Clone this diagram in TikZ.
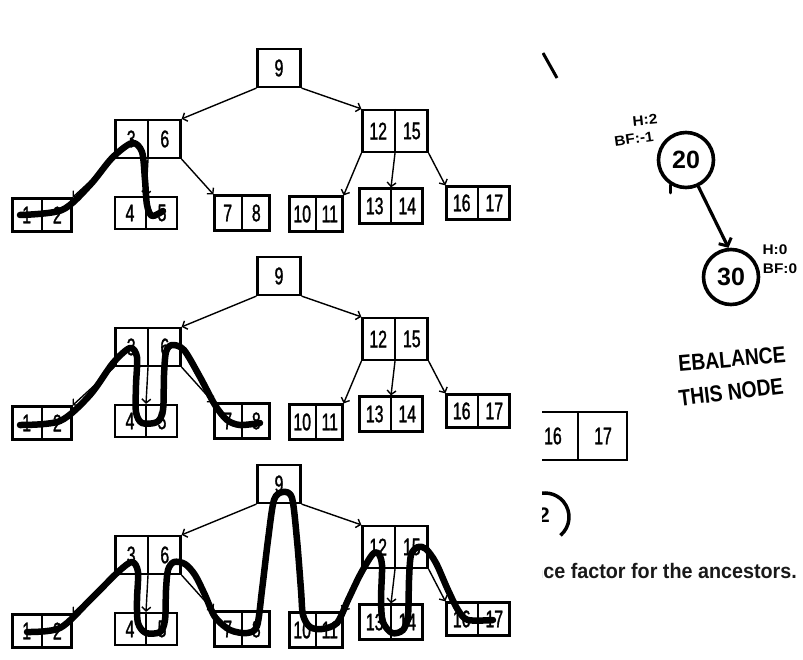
\documentclass[tikz,border=0pt]{standalone}
\usepackage{fontspec}
\setmainfont{Liberation Sans}
\newfontfamily\handfont[FakeStretch=0.66,FakeBold=1.2]{Liberation Sans}
\newfontfamily\capsfont[FakeStretch=0.84]{Liberation Sans Bold}
\newfontfamily\notefont[FakeStretch=1.1]{Liberation Sans Bold}
\newfontfamily\bigdigits{Liberation Sans Bold}
\newfontfamily\capfragfont[FakeStretch=0.94]{Liberation Sans Bold}
\usetikzlibrary{calc,arrows.meta}
\tikzset{
  boxline/.style={line width=2.2pt},
  keybox/.style={draw, line width=2.2pt, inner sep=0pt, font=\handfont\fontsize{24}{24}\selectfont},
  keytxt/.style={inner sep=0pt, font=\handfont\fontsize{24}{24}\selectfont},
  conn/.style={line width=1.4pt, -{Straight Barb[length=4pt,width=9pt,line width=1.4pt]}},
  trav/.style={line width=6.5pt, line cap=round, line join=round},
  heavy/.style={line width=3.2pt, line cap=round},
  avl/.style={draw, circle, line width=3.6pt, minimum size=55pt, inner sep=0pt, font=\bigdigits\fontsize{25}{25}\selectfont},
  note/.style={inner sep=0pt, font=\notefont\fontsize{14}{14}\selectfont},
  caption/.style={inner sep=0pt, font=\capsfont\fontsize{23}{23}\selectfont},
}
\newcommand\twokey[7]{%
  \node[keybox, minimum width=#4, minimum height=#5] (#1) at (#2,#3) {};
  \draw[boxline] (#1.north) -- (#1.south);
  \node[keytxt] (#1a) at ($(#1.west)!0.5!(#1.center)$) {#6};
  \node[keytxt] (#1b) at ($(#1.center)!0.5!(#1.east)$) {#7};
}
\newcommand\drawbtree[2]{%
  \begin{scope}[yshift=-#2pt]
    \node[keybox, minimum width=43, minimum height=38] (#1root) at (279,68) {9};
    \twokey{#1L}{148}{139}{65}{38}{3}{6}
    \twokey{#1R}{395}{131}{65}{42}{12}{15}
    \twokey{#1la}{42}{215}{59}{33}{1}{2}
    \twokey{#1lb}{146}{213}{62}{32}{4}{5}
    \twokey{#1lc}{242}{213}{55}{35}{7}{8}
    \twokey{#1ld}{316}{214}{53}{35}{10}{11}
    \twokey{#1le}{391}{206}{63}{35}{13}{14}
    \twokey{#1lf}{478}{203}{63}{33}{16}{17}
    \draw[conn] (#1root.south west) -- (#1L.north east);
    \draw[conn] (#1root.south east) -- (#1R.north west);
    \draw[conn] (#1L.south west) -- (#1la.north east);
    \draw[conn] (#1L.south) -- (#1lb.north);
    \draw[conn] (#1L.south east) -- (#1lc.north west);
    \draw[conn] (#1R.south west) -- (#1ld.north east);
    \draw[conn] (#1R.south) -- (#1le.north);
    \draw[conn] (#1R.south east) -- (#1lf.north west);
  \end{scope}}
\begin{document}
\begin{tikzpicture}[x=1pt,y=-1pt]
\fill[white] (0,0) rectangle (803,660);
\useasboundingbox (0,0) rectangle (803,660);

\drawbtree{ta}{0}
\drawbtree{tb}{208}
\drawbtree{tc}{416}

% traversal paths
\draw[trav] plot[smooth, tension=0.5] coordinates {(20,215) (62,210) (90,185) (112,158) (132,143) (142,152) (145,180) (147,205) (152,216) (163,211)};
\draw[trav] plot[smooth, tension=0.5] coordinates {(20,425) (60,421) (90,395) (113,363) (130,348) (137,357) (136,385) (136,412) (142,423) (157,422) (163,410) (164,375) (166,352) (172,345) (184,350) (200,377) (215,405) (227,420) (240,425) (260,423)};
\draw[trav] plot[smooth, tension=0.5] coordinates {(27,632) (60,628) (90,600) (118,572) (132,562) (138,572) (137,600) (138,623) (146,633) (160,632) (165,620) (166,590) (168,570) (174,562) (185,564) (195,575) (205,595) (215,617) (230,630) (247,633) (257,626) (262,590) (268,540) (274,500) (283,492) (292,498) (297,540) (301,590) (303,615) (310,627) (322,629) (337,623) (348,600) (360,575) (372,555) (378,553) (382,565) (381,600) (383,622) (392,633) (403,630) (408,615) (409,580) (411,555) (418,547) (426,549) (436,563) (448,590) (458,610) (468,620) (493,620)};

% right panel: AVL fragment
\node[avl] (c20) at (686,160) {20};
\node[avl] (c30) at (731,277) {30};
\draw[heavy, -{Straight Barb[length=6pt,width=14pt,line width=3pt]}] (c20.-65) -- (c30.95);
\coordinate (stubend) at ($(c20.238)+(0,8)$);
\draw[heavy] (c20.238) -- (stubend);
\node[note, rotate=6] (h20) at (645,120) {H:2};
\node[note, rotate=8] (bf20) at (634,139) {BF:-1};
\node[note] (h30) at (775,250) {H:0};
\node[note] (bf30) at (780,269) {BF:0};
\node[caption, rotate=5] (cap1) at (732,359) {EBALANCE};
\node[caption, rotate=7] (cap2) at (731,392) {THIS NODE};

% clipped fragments
\begin{scope}
  \clip (542,0) rectangle (803,660);
  \coordinate (fa) at (543,53);
  \coordinate (fb) at (557,78);
  \draw[line width=3pt] (fa) -- (fb);
  \twokey{frag}{578}{436}{98}{48}{16}{17}
  \draw[line width=3.5pt] (545,517) ++(50:24) arc[start angle=50, end angle=-120, radius=24];
  \node[inner sep=0pt, font=\bigdigits\fontsize{21}{21}\selectfont] (two) at (544,515) {2};
  \node[anchor=base east, inner sep=0pt, font=\capfragfont\fontsize{21}{21}\selectfont, text=black!90] (ctext) at (797,578) {balance factor for the ancestors.};
\end{scope}
\end{tikzpicture}
\end{document}
